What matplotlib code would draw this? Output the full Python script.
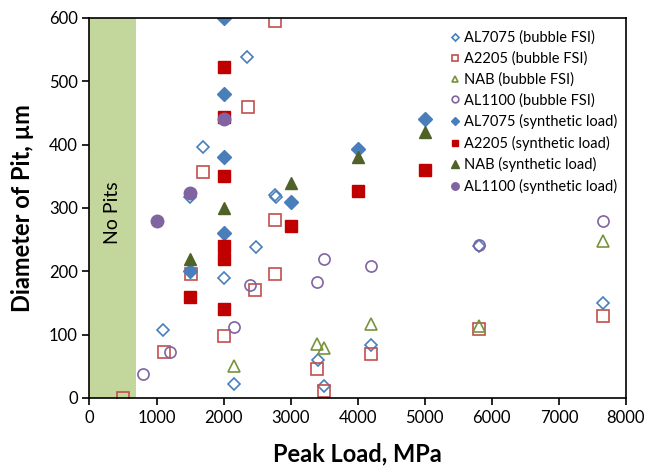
import matplotlib
matplotlib.use('Agg')
from matplotlib import pyplot as plt

plt.rcParams['font.family'] = ['Lato', 'DejaVu Sans']

# bubble FSI (open markers)
al7075_b_x = [1100, 1500, 1700, 2000, 2150, 2350, 2480, 2760, 2780, 3410, 3500, 4200, 5810, 7650]
al7075_b_y = [108, 318, 397, 190, 22, 538, 239, 321, 318, 60, 19, 84, 240, 150]
a2205_b_x = [500, 1110, 1510, 1700, 2000, 2360, 2470, 2770, 2770, 2770, 3400, 3500, 4200, 5810, 7650]
a2205_b_y = [0, 72, 195, 357, 98, 460, 170, 596, 281, 195, 45, 11, 70, 109, 130]
nab_b_x = [2150, 3400, 3490, 4200, 5810, 7650]
nab_b_y = [51, 86, 79, 117, 113, 248]
al1100_b_x = [800, 1200, 2150, 2400, 3400, 3500, 4200, 5810, 7650]
al1100_b_y = [38, 72, 112, 178, 183, 219, 208, 241, 279]

# synthetic load (filled markers)
al7075_s_x = [1500, 2000, 2000, 2000, 2000, 3000, 4000, 5000]
al7075_s_y = [200, 600, 480, 380, 260, 310, 393, 440]
a2205_s_x = [1500, 2000, 2000, 2000, 2000, 2000, 2000, 3000, 4000, 5000]
a2205_s_y = [160, 522, 444, 350, 240, 220, 140, 271, 327, 360]
nab_s_x = [1500, 2000, 3000, 4000, 5000]
nab_s_y = [220, 300, 340, 380, 420]
al1100_s_x = [1000, 1500, 2000]
al1100_s_y = [279, 323, 440]

fig = plt.figure(figsize=(6.47, 4.68), dpi=100)
ax = fig.add_axes([0.1383, 0.1496, 0.8292, 0.812])

ax.axvspan(0, 700, color='#C3D69B', zorder=0, lw=0)
ax.text(340, 292, 'No Pits', rotation=90, ha='center', va='center', fontsize=14)

ax.plot(al7075_b_x, al7075_b_y, 'D', ls='none', ms=6, mfc='none', mec='#4A7EBB', mew=1.2,
		label='AL7075 (bubble FSI)')
ax.plot(a2205_b_x, a2205_b_y, 's', ls='none', ms=8, mfc='none', mec='#C0504D', mew=1.2,
		label='A2205 (bubble FSI)')
ax.plot(nab_b_x, nab_b_y, '^', ls='none', ms=8, mfc='none', mec='#77933C', mew=1.2,
		label='NAB (bubble FSI)')
ax.plot(al1100_b_x, al1100_b_y, 'o', ls='none', ms=8, mfc='none', mec='#8064A2', mew=1.2,
		label='AL1100 (bubble FSI)')
ax.plot(al7075_s_x, al7075_s_y, 'D', ls='none', ms=7, color='#4A7EBB',
		label='AL7075 (synthetic load)')
ax.plot(a2205_s_x, a2205_s_y, 's', ls='none', ms=8, color='#C00000',
		label='A2205 (synthetic load)')
ax.plot(nab_s_x, nab_s_y, '^', ls='none', ms=9, color='#4F6228',
		label='NAB (synthetic load)')
ax.plot(al1100_s_x, al1100_s_y, 'o', ls='none', ms=9, color='#8064A2',
		label='AL1100 (synthetic load)')

ax.set_xlim(0, 8000)
ax.set_ylim(0, 600)
ax.set_xticks(range(0, 8001, 1000))
ax.set_yticks(range(0, 601, 100))
ax.tick_params(labelsize=12, length=5, width=1.2, direction='out')
for s in ax.spines.values():
	s.set_linewidth(1.2)

ax.set_xlabel('Peak Load, MPa', fontsize=17, fontweight='bold', labelpad=12)
ax.set_ylabel('Diameter of Pit, µm', fontsize=17, fontweight='bold', labelpad=11)

leg = ax.legend(loc='upper right', bbox_to_anchor=(1.0, 0.99), frameon=False,
				fontsize=10.5, markerscale=0.6, handlelength=0.6, handletextpad=0.3,
				labelspacing=0.45, borderaxespad=0.2)

plt.savefig('out.png', dpi=100)
